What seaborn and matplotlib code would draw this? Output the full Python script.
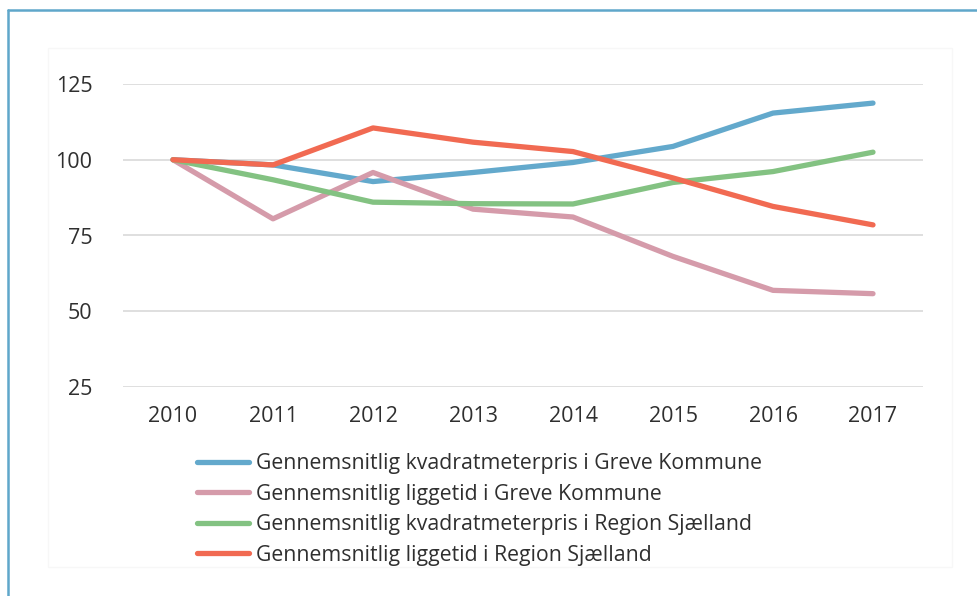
import matplotlib
matplotlib.use("Agg")
import matplotlib.pyplot as plt
import seaborn as sns
import pandas as pd
from matplotlib.lines import Line2D

years = [2010, 2011, 2012, 2013, 2014, 2015, 2016, 2017]
series_names = [
    "Gennemsnitlig kvadratmeterpris i Greve Kommune",
    "Gennemsnitlig liggetid i Greve Kommune",
    "Gennemsnitlig kvadratmeterpris i Region Sjælland",
    "Gennemsnitlig liggetid i Region Sjælland",
]
pris_greve = [100, 98.3, 92.8, 95.8, 99.1, 104.4, 115.4, 118.7]
liggetid_greve = [100, 80.5, 95.8, 83.7, 81.1, 68.1, 56.9, 55.8]
pris_region = [100, 93.4, 86.0, 85.5, 85.4, 92.5, 96.1, 102.5]
liggetid_region = [100, 98.3, 110.5, 105.8, 102.7, 94.0, 84.6, 78.5]
y_ticks = [25, 50, 75, 100, 125]
colors = ["#63A9CC", "#D59BAA", "#83C282", "#F16A52"]

rows = []
for name, vals in zip(series_names, [pris_greve, liggetid_greve, pris_region, liggetid_region]):
    for yr, v in zip(years, vals):
        rows.append({"year": yr, "value": v, "series": name})
df = pd.DataFrame(rows)

sns.set_theme(style="white")
plt.rcParams["font.family"] = ["Open Sans", "DejaVu Sans"]

W, H = 978, 596
fig = plt.figure(figsize=(W / 100, H / 100), dpi=100)
ax = fig.add_axes([123 / W, 1 - 387 / H, 800 / W, (387 - 84) / H])

sns.lineplot(data=df, x="year", y="value", hue="series", hue_order=series_names,
             palette=colors, linewidth=3.8, ax=ax, legend=False,
             solid_capstyle="round", solid_joinstyle="round")

ax.set_xlim(2009.5, 2017.5)
ax.set_ylim(25, 125)
ax.set_yticks(y_ticks)
ax.set_xticks(years)
ax.set_xticklabels([str(y) for y in years])
ax.grid(axis="y", color="#d9d9d9", linewidth=1.2)
ax.grid(axis="x", visible=False)
ax.set_axisbelow(True)
for s in ax.spines.values():
    s.set_visible(False)
ax.set_xlabel("")
ax.set_ylabel("")
ax.tick_params(axis="both", length=0, labelsize=15.5, colors="#2f2f2f")
ax.tick_params(axis="y", pad=22)
ax.tick_params(axis="x", pad=14)

handles = [Line2D([0], [0], color=c, linewidth=3.8, solid_capstyle="round") for c in colors]
fig.legend(handles, series_names, loc="upper left", bbox_to_anchor=(197 / W, 1 - 453 / H),
           frameon=False, fontsize=15.3, handlelength=2.45, handletextpad=0.35,
           labelspacing=0.45, borderaxespad=0, borderpad=0, labelcolor="#2f2f2f")

# faint chart area border
fig.add_artist(plt.Rectangle((48 / W, 1 - 567 / H), (952 - 48) / W, (567 - 48) / H,
                             transform=fig.transFigure, fill=False,
                             edgecolor="#f7f7f7", linewidth=1))
# outer blue frame (top and left visible)
fig.add_artist(Line2D([8 / W, 1.0], [1 - 10 / H, 1 - 10 / H], transform=fig.transFigure,
                      color="#5FA7CA", linewidth=1.8))
fig.add_artist(Line2D([8 / W, 8 / W], [0, 1 - 10 / H], transform=fig.transFigure,
                      color="#5FA7CA", linewidth=1.8))

fig.savefig("out.png", dpi=100)
